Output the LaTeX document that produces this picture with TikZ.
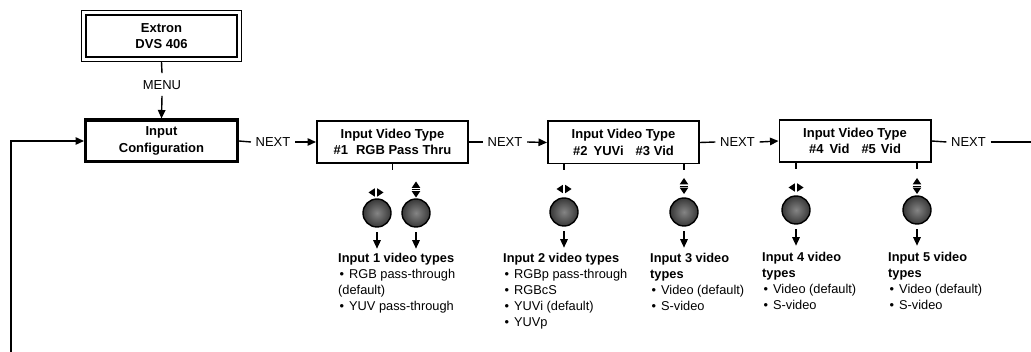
\documentclass[tikz,border=0pt]{standalone}
\usepackage{fontspec}
\setmainfont{Liberation Sans}
\usetikzlibrary{arrows.meta,calc,fit}
\newcommand\bul{\hspace{1.5pt}\textbullet\hspace{5pt}}
\newcommand\lst[1]{\begin{tabular}[t]{@{}l@{}}#1\end{tabular}}
\begin{document}
\begin{tikzpicture}[x=1pt,y=-1pt,
  every node/.style={font=\fontsize{13}{16.5}\selectfont},
  box/.style={draw, line width=1.8pt, minimum width=151.2pt, minimum height=42.2pt,
    align=center, inner sep=0pt, font=\bfseries\fontsize{13}{16.5}\selectfont},
  lbl/.style={inner xsep=4.5pt, inner ysep=0pt, text height=9.4pt, text depth=0pt},
  arr/.style={-{Triangle[length=8.5pt,width=7.5pt]}, line width=1.4pt},
  ln/.style={line width=1.4pt},
  knob/.style={circle, draw=black, line width=1.4pt, minimum size=28pt, inner sep=0pt,
    inner color=black!48, outer color=black!78},
  list/.style={anchor=base west, inner sep=0pt},
  lr/.pic={\fill (-1.2,-4.2) -- (-1.2,4.2) -- (-7.5,0) -- cycle;
           \fill (1.2,-4.2) -- (1.2,4.2) -- (7.5,0) -- cycle;},
  ud/.pic={\fill (-4.3,-1.6) -- (4.3,-1.6) -- (0,-8) -- cycle;
           \fill (-4.3,1.6) -- (4.3,1.6) -- (0,8) -- cycle;
           \draw[line width=0.9pt] (-4.3,0) -- (4.3,0);}]

\useasboundingbox (0,0) rectangle (1031,352);

% top box
\node[box, line width=2pt, minimum width=151pt, minimum height=42pt] (ext) at (161.5,36) {Extron\\DVS 406};
\node[draw, line width=1.2pt, fit=(ext), inner sep=3.6pt] (extO) {};

\node[lbl, inner ysep=6.5pt] (menu) at (162,84.5) {MENU};

\node[box, line width=3.2pt, minimum width=151.8pt, minimum height=41.8pt] (cfg) at (161.5,141) {Input\\Configuration};

\node[box] (b1) at (392.5,142) {Input Video Type\\\#1\hspace{8pt}RGB Pass Thru};
\node[box] (b2) at (623.5,142.5) {Input Video Type\\\#2\hspace{6pt}YUVi\hspace{12pt}\#3 Vid};
\node[box] (b3) at (855,141) {Input Video Type\\\#4\hspace{6pt}Vid\hspace{12pt}\#5\hspace{5pt}Vid};

\node[lbl] (n1) at (273,142) {NEXT};
\node[lbl] (n2) at (505,142) {NEXT};
\node[lbl] (n3) at (737.5,142) {NEXT};
\node[lbl] (n4) at (968.5,142) {NEXT};

\coordinate (rEnd) at (1031,142);
\coordinate (lBot) at (11,352);

\draw[ln] (extO.south) -- (menu.north);
\draw[arr] (menu.south) -- (cfg.north);

\draw[ln] (cfg.east) -- (n1.west);
\draw[arr] (n1.east) -- (b1.west);
\draw[ln] (b1.east) -- (n2.west);
\draw[arr] (n2.east) -- (b2.west);
\draw[ln] (b2.east) -- (n3.west);
\draw[arr] (n3.east) -- (b3.west);
\draw[ln] (b3.east) -- (n4.west);
\draw[ln] (n4.east) -- (rEnd);
\draw[arr] (lBot) |- (cfg.west);

% knobs
\node[knob] (k1) at (377,213) {};
\node[knob] (k2) at (416,213) {};
\node[knob] (k3) at (564,212) {};
\node[knob] (k4) at (684,212) {};
\node[knob] (k5) at (796,210) {};
\node[knob] (k6) at (917,210) {};

% ticks under boxes
\draw[ln] (b1.south) -- ++(0,6);
\draw[ln] (b2.south -| k3) -- ++(0,6);
\draw[ln] (b2.south -| k4) -- ++(0,6);
\draw[ln] (b3.south -| k5) -- ++(0,6);
\draw[ln] (b3.south -| k6) -- ++(0,6);

% direction symbols
\pic at ($(k1)+(-1,-20.5)$) {lr};
\pic at ($(k2)+(0,-23.5)$) {ud};
\pic at ($(k3)+(0,-23)$) {lr};
\pic at ($(k4)+(0,-26)$) {ud};
\pic at ($(k5)+(0,-22.5)$) {lr};
\pic at ($(k6)+(0,-24)$) {ud};

% arrows below knobs
\foreach \k in {k1,k2,k3,k4,k5,k6}
  \draw[arr] ($(\k.south)+(0,4.5)$) -- ++(0,16.5);

% lists
\begin{scope}[every node/.style={font=\fontsize{12.8}{15.8}\selectfont}]
\node[list] (L1) at (338,263) {\lst{\textbf{Input 1 video types}\\\bul RGB pass-through\\(default)\\\bul YUV pass-through}};
\node[list] (L2) at (503,263) {\lst{\textbf{Input 2 video types}\\\bul RGBp pass-through\\\bul RGBcS\\\bul YUVi (default)\\\bul YUVp}};
\node[list] (L3) at (650,263) {\lst{\textbf{Input 3 video}\\\textbf{types}\\\bul Video (default)\\\bul S-video}};
\node[list] (L4) at (762,262) {\lst{\textbf{Input 4 video}\\\textbf{types}\\\bul Video (default)\\\bul S-video}};
\node[list] (L5) at (888,262) {\lst{\textbf{Input 5 video}\\\textbf{types}\\\bul Video (default)\\\bul S-video}};
\end{scope}
\end{tikzpicture}
\end{document}
